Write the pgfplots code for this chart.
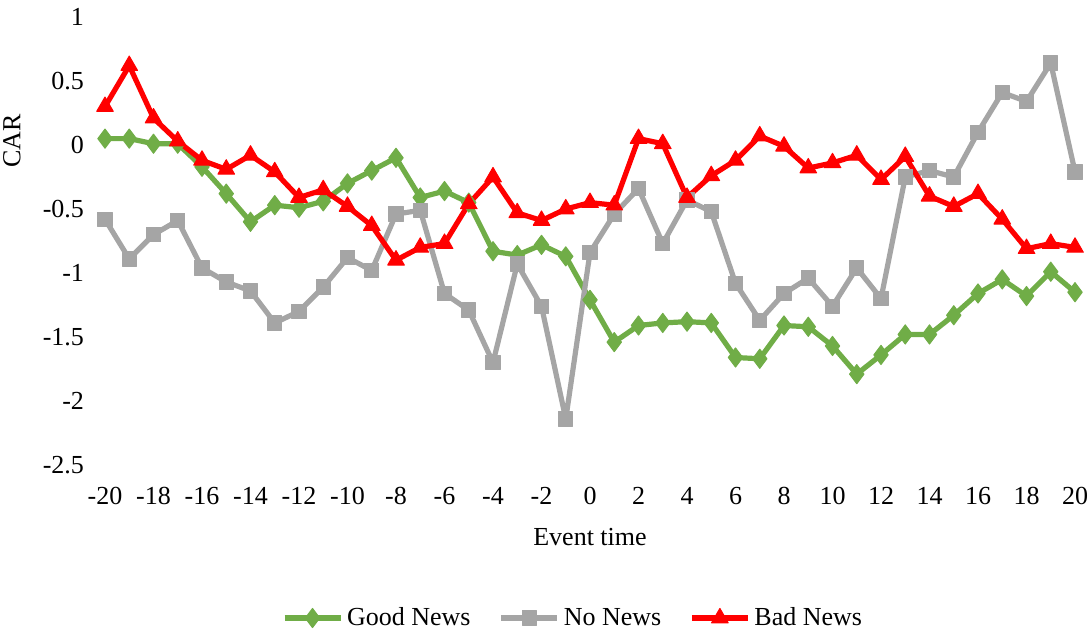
\documentclass[border=0pt]{standalone}
\usepackage{pgfplots}
\pgfplotsset{compat=1.18}
\usepackage{fontspec}
\setmainfont{Liberation Serif}

\definecolor{goodgreen}{HTML}{70AD47}
\definecolor{nogrey}{HTML}{A5A5A5}
\definecolor{badred}{HTML}{FF0000}

\pgfplotstableread{
t good no bad
-20 0.05 -0.58 0.30
-19 0.05 -0.89 0.62
-18 0.01 -0.70 0.21
-17 0.01 -0.59 0.03
-16 -0.17 -0.96 -0.12
-15 -0.38 -1.07 -0.19
-14 -0.60 -1.14 -0.08
-13 -0.47 -1.39 -0.21
-12 -0.49 -1.30 -0.41
-11 -0.44 -1.11 -0.35
-10 -0.30 -0.88 -0.48
-9 -0.20 -0.98 -0.63
-8 -0.10 -0.54 -0.90
-7 -0.41 -0.51 -0.80
-6 -0.36 -1.16 -0.77
-5 -0.45 -1.29 -0.46
-4 -0.83 -1.70 -0.25
-3 -0.86 -0.93 -0.53
-2 -0.78 -1.26 -0.59
-1 -0.87 -2.14 -0.50
0 -1.21 -0.84 -0.45
1 -1.54 -0.54 -0.47
2 -1.41 -0.34 0.05
3 -1.39 -0.77 0.01
4 -1.38 -0.43 -0.41
5 -1.39 -0.52 -0.24
6 -1.66 -1.08 -0.12
7 -1.67 -1.37 0.07
8 -1.41 -1.16 -0.01
9 -1.42 -1.04 -0.18
10 -1.57 -1.26 -0.14
11 -1.79 -0.96 -0.08
12 -1.64 -1.20 -0.27
13 -1.48 -0.25 -0.09
14 -1.48 -0.20 -0.40
15 -1.33 -0.25 -0.48
16 -1.16 0.10 -0.38
17 -1.05 0.41 -0.58
18 -1.18 0.34 -0.81
19 -0.99 0.64 -0.77
20 -1.15 -0.21 -0.80
}\cartable

\begin{document}
\begin{tikzpicture}
\begin{axis}[
  name=ax,
  scale only axis,
  width=485pt, height=224pt,
  xmin=-20, xmax=20,
  ymin=-2.5, ymax=1,
  xtick={-20,-18,...,20},
  ytick={-2.5,-2,...,1},
  axis line style={draw=none},
  major tick length=0pt,
  clip=false,
  /pgf/number format/assume math mode=true,
  tick label style={font=\fontsize{13}{16}\selectfont},
  yticklabel style={xshift=-7pt},
  xticklabel style={yshift=-7.5pt},
  label style={font=\fontsize{13}{16}\selectfont},
  xlabel={Event time},
  ylabel={CAR},
  xlabel style={at={(axis description cs:0.5,-0.161)}, anchor=center},
  ylabel style={at={(axis description cs:-0.096,0.723)}, anchor=center},
  legend columns=-1,
  legend style={draw=none, font=\fontsize{13}{16}\selectfont,
    at={(axis description cs:0.4835,-0.3415)}, anchor=center,
    /tikz/every even column/.append style={column sep=12pt}},
  legend image code/.code={%
    \draw[mark repeat=2, mark phase=2] plot coordinates {(0pt,0pt) (14pt,0pt) (28pt,0pt)};},
  every axis plot/.append style={line width=2.6pt, line join=round},
]
\addplot[goodgreen, mark=diamond*, mark size=4.8pt, mark options={line width=0.5pt, solid}] table[x=t, y=good] {\cartable};
\addlegendentry{Good News}
\addplot[nogrey, mark=square*, mark size=3.6pt, mark options={line width=0.5pt, solid}] table[x=t, y=no] {\cartable};
\addlegendentry{No News}
\addplot[badred, mark=triangle*, mark size=4.8pt, mark options={line width=0.5pt, solid}] table[x=t, y=bad] {\cartable};
\addlegendentry{Bad News}
\end{axis}
% page extent measured from the plot area
\pgfresetboundingbox
\path ([shift={(-52.5pt,-84.5pt)}]ax.south west) rectangle ([shift={(7pt,8.5pt)}]ax.north east);
\end{tikzpicture}
\end{document}
